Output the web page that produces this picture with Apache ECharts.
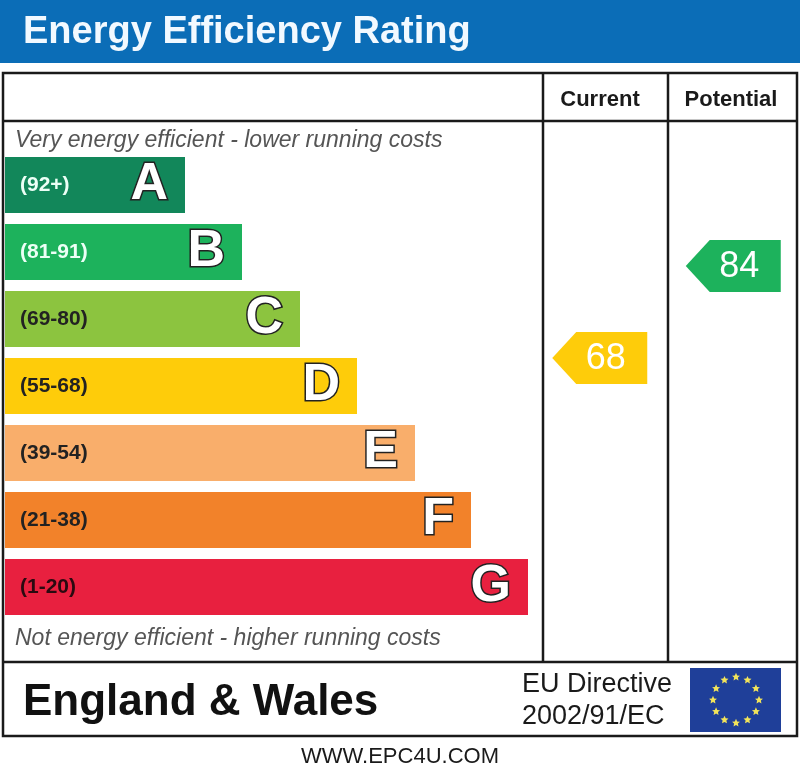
<!DOCTYPE html>
<html><head><meta charset="utf-8">
<script src="https://cdn.jsdelivr.net/npm/echarts@6/dist/echarts.min.js"></script>
<style>html,body{margin:0;padding:0;background:#fff}#c{width:800px;height:776px}</style>
</head><body><div id="c"></div>
<script>
// ---- data ----
const bands = ['A', 'B', 'C', 'D', 'E', 'F', 'G'];
const bandRanges = ['(92+)', '(81-91)', '(69-80)', '(55-68)', '(39-54)', '(21-38)', '(1-20)'];
const bandMin = [92, 81, 69, 55, 39, 21, 1];
const barLength = [180, 237, 295, 352, 410, 466, 523];
const bandColors = ['#12875a', '#1db25c', '#8cc43f', '#fecc0a', '#f9ae6b', '#f2822a', '#e8203f'];
const rangeLabelColors = ['#ecfff6', '#ecfff6', '#222222', '#222222', '#222222', '#222222', '#2a0a10'];
const ratingColumns = ['Current', 'Potential'];
const ratings = [68, 84];

const FONT = "'Liberation Sans', Arial, sans-serif";

function colorFor(v) {
  for (let i = 0; i < bandMin.length; i++) if (v >= bandMin[i]) return bandColors[i];
  return bandColors[bandColors.length - 1];
}

function txt(text, x, y, font, fill, align) {
  return {
    type: 'text', silent: true,
    style: { text: text, x: x, y: y, font: font, fill: fill,
      align: align || 'left', textAlign: align || 'left',
      verticalAlign: 'middle', textVerticalAlign: 'middle' }
  };
}
function line(x1, y1, x2, y2) {
  return { type: 'line', silent: true, shape: { x1: x1, y1: y1, x2: x2, y2: y2 },
    style: { stroke: '#1a1a1a', lineWidth: 2.5 } };
}

// EU flag stars (decoration)
const stars = [];
const cx = 736, cy = 700, R = 23;
for (let k = 0; k < 12; k++) {
  const a = k * Math.PI / 6;
  const sx = cx + R * Math.sin(a), sy = cy - R * Math.cos(a);
  const pts = [];
  for (let j = 0; j < 10; j++) {
    const r = j % 2 === 0 ? 4.2 : 2;
    const b = j * Math.PI / 5;
    pts.push([sx + r * Math.sin(b), sy - r * Math.cos(b)]);
  }
  stars.push({ type: 'polygon', silent: true, shape: { points: pts }, style: { fill: '#f2e45a' } });
}

const graphics = [
  { type: 'rect', silent: true, shape: { x: 0, y: 0, width: 800, height: 63 }, style: { fill: '#0b6db7' } },
  txt('Energy Efficiency Rating', 23, 33, 'bold 38px ' + FONT, '#f2f9ff'),
  { type: 'rect', silent: true, shape: { x: 3, y: 73, width: 794, height: 663 }, style: { fill: 'none', stroke: '#1a1a1a', lineWidth: 2.5 } },
  line(3, 121, 797, 121),
  line(543, 73, 543, 662),
  line(668, 73, 668, 662),
  line(3, 662, 797, 662),
  txt('Current', 600, 100, 'bold 22px ' + FONT, '#1a1a1a', 'center'),
  txt('Potential', 731, 100, 'bold 22px ' + FONT, '#1a1a1a', 'center'),
  txt('Very energy efficient - lower running costs', 15, 141, 'italic 23px ' + FONT, '#555555'),
  txt('Not energy efficient - higher running costs', 15, 639, 'italic 23px ' + FONT, '#555555'),
  txt('England & Wales', 23, 703, 'bold 44px ' + FONT, '#111111'),
  txt('EU Directive', 522, 685, '27px ' + FONT, '#1a1a1a'),
  txt('2002/91/EC', 522, 717, '27px ' + FONT, '#1a1a1a'),
  { type: 'rect', silent: true, shape: { x: 690, y: 668, width: 91, height: 64 }, style: { fill: '#1f3f99' } },
  ...stars,
  txt('WWW.EPC4U.COM', 400, 757, '22px ' + FONT, '#1a1a1a', 'center')
];

const chart = echarts.init(document.getElementById('c'), null, { renderer: 'canvas' });
chart.setOption({
  animation: false,
  backgroundColor: '#ffffff',
  graphic: { elements: graphics },
  grid: [
    { left: 5, top: 151.5, width: 540, height: 469 },
    { left: 533, top: 145.25, width: 268, height: 488.75 }
  ],
  xAxis: [
    { type: 'value', gridIndex: 0, min: 0, max: 540, show: false },
    { type: 'category', gridIndex: 1, data: ratingColumns, show: false }
  ],
  yAxis: [
    { type: 'category', gridIndex: 0, data: bands, inverse: true, show: false },
    { type: 'value', gridIndex: 1, min: 20, max: 105, show: false }
  ],
  series: [
    {
      type: 'bar', xAxisIndex: 0, yAxisIndex: 0, silent: true,
      barWidth: 56, barGap: '-100%',
      data: barLength.map((v, i) => ({ value: v, itemStyle: { color: bandColors[i] },
        label: { color: rangeLabelColors[i] } })),
      label: { show: true, position: 'insideLeft', distance: 15,
        formatter: p => bandRanges[p.dataIndex],
        fontSize: 21, fontWeight: 'bold', fontFamily: FONT }
    },
    {
      type: 'bar', xAxisIndex: 0, yAxisIndex: 0, silent: true,
      barWidth: 56, barGap: '-100%',
      data: barLength,
      itemStyle: { color: 'rgba(0,0,0,0)' },
      label: { show: true, position: 'insideRight', distance: 17,
        formatter: p => bands[p.dataIndex],
        fontSize: 52, fontWeight: 'bold', fontFamily: FONT, color: '#ffffff',
        textBorderColor: '#222222', textBorderWidth: 3 }
    },
    {
      type: 'scatter', xAxisIndex: 1, yAxisIndex: 1, silent: true,
      symbol: 'path://M0,26L24,0L95,0L95,52L24,52Z',
      symbolSize: [95, 52],
      itemStyle: { opacity: 1 },
      data: ratings.map((v, i) => ({ value: [ratingColumns[i], v], itemStyle: { color: colorFor(v), opacity: 1 } })),
      label: { show: true, position: 'inside', offset: [6, 1],
        formatter: p => String(p.value[1]),
        color: '#ffffff', fontSize: 36, fontFamily: FONT }
    }
  ]
});
</script>
</body></html>
